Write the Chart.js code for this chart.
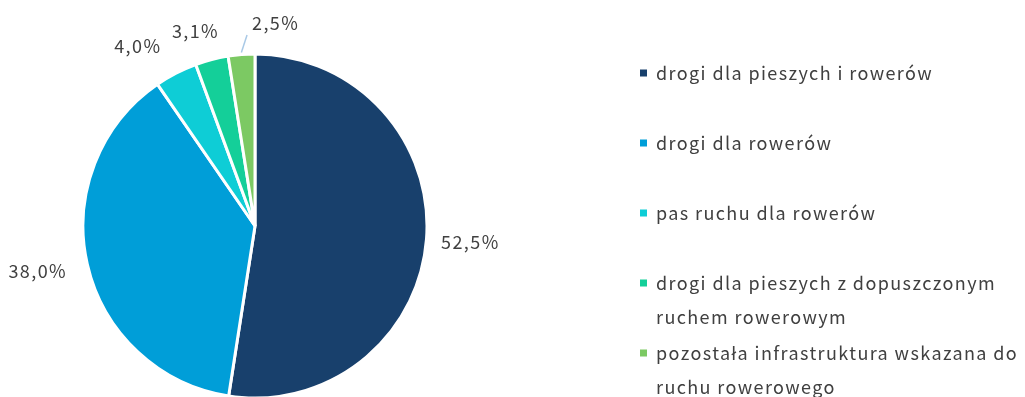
<!DOCTYPE html>
<html>
<head>
<meta charset="utf-8">
<script src="https://cdn.jsdelivr.net/npm/chart.js@4.4.0/dist/chart.umd.min.js"></script>
<style>
    html, body { margin: 0; padding: 0; background: #fff; overflow: hidden; }
    #wrap { position: relative; width: 1025px; height: 397px; }
</style>
</head>
<body>
<div id="wrap"><canvas id="pieChart"></canvas></div>
<script>
// ====================================
// Data
// ====================================
var categories = [
    'drogi dla pieszych i rowerów',
    'drogi dla rowerów',
    'pas ruchu dla rowerów',
    'drogi dla pieszych z dopuszczonym ruchem rowerowym',
    'pozostała infrastruktura wskazana do ruchu rowerowego'
];
var shares = [52.5, 38.0, 4.0, 3.1, 2.5];
var sliceColors = ['#18406c', '#009ed8', '#0ecdd6', '#14cf99', '#7cc963'];

// label placement around the pie (degrees / px beyond the rim)
var labelShift = [0, 1, -5.7, -2.4, 10.3];
var labelGap = [44, 50, 43, 32, 32];
var labelLeader = [false, false, false, false, true];

var FONT = '"Noto Sans CJK JP", "Noto Sans", sans-serif';
var TEXT_COLOR = '#404040';
var SPACING = '1.4px';

function fmt(v) {
    return v.toFixed(1).replace('.', ',') + '%';
}

function wrapText(ctx, text, maxWidth) {
    var words = text.split(' ');
    var lines = [];
    var line = '';
    words.forEach(function(w) {
        var test = line ? line + ' ' + w : w;
        if (line && ctx.measureText(test).width > maxWidth) {
            lines.push(line);
            line = w;
        } else {
            line = test;
        }
    });
    if (line) lines.push(line);
    return lines;
}

// ====================================
// Percent labels next to slices
// ====================================
var pieLabels = {
    id: 'pieLabels',
    afterDatasetsDraw: function(chart) {
        var ctx = chart.ctx;
        var arcs = chart.getDatasetMeta(0).data;
        ctx.save();
        ctx.font = '18px ' + FONT;
        ctx.letterSpacing = SPACING;
        ctx.fillStyle = TEXT_COLOR;
        ctx.textAlign = 'center';
        ctx.textBaseline = 'middle';
        arcs.forEach(function(arc, i) {
            var p = arc.getProps(['x', 'y', 'startAngle', 'endAngle', 'outerRadius'], true);
            var mid = (p.startAngle + p.endAngle) / 2;
            var a = mid + labelShift[i] * Math.PI / 180;
            var r = p.outerRadius + labelGap[i];
            var lx = p.x + Math.cos(a) * r;
            var ly = p.y + Math.sin(a) * r;
            var txt = fmt(shares[i]);
            ctx.fillText(txt, lx, ly);
            if (labelLeader[i]) {
                var w = ctx.measureText(txt).width;
                ctx.beginPath();
                ctx.strokeStyle = '#a9c9e6';
                ctx.lineWidth = 1.5;
                ctx.moveTo(p.x + Math.cos(mid) * (p.outerRadius + 2), p.y + Math.sin(mid) * (p.outerRadius + 2));
                ctx.lineTo(lx - w / 2 - 5, ly + 12);
                ctx.stroke();
            }
        });
        ctx.restore();
    }
};

// ====================================
// Legend on the right (wrapped lines)
// ====================================
var sideLegend = {
    id: 'sideLegend',
    afterDraw: function(chart) {
        var ctx = chart.ctx;
        var x0 = 640, tx = 656, y0 = 73, step = 70, lineH = 34;
        ctx.save();
        ctx.font = '18px ' + FONT;
        ctx.letterSpacing = SPACING;
        ctx.textAlign = 'left';
        ctx.textBaseline = 'middle';
        categories.forEach(function(name, i) {
            var y = y0 + i * step;
            ctx.fillStyle = sliceColors[i];
            ctx.fillRect(x0, y - 3.5, 7, 7);
            ctx.fillStyle = TEXT_COLOR;
            wrapText(ctx, name, 368).forEach(function(line, j) {
                ctx.fillText(line, tx, y + j * lineH);
            });
        });
        ctx.restore();
    }
};

// ====================================
// Chart
// ====================================
var ctx = document.getElementById('pieChart').getContext('2d');
new Chart(ctx, {
    type: 'pie',
    data: {
        labels: categories,
        datasets: [{
            data: shares,
            backgroundColor: sliceColors,
            borderColor: '#ffffff',
            borderWidth: 3,
            radius: 172,
            clip: false
        }]
    },
    options: {
        responsive: true,
        maintainAspectRatio: false,
        animation: false,
        layout: {
            padding: { left: 0, right: 515, top: 55, bottom: 0 }
        },
        plugins: {
            legend: { display: false },
            tooltip: { enabled: false }
        }
    },
    plugins: [pieLabels, sideLegend]
});
</script>
</body>
</html>
